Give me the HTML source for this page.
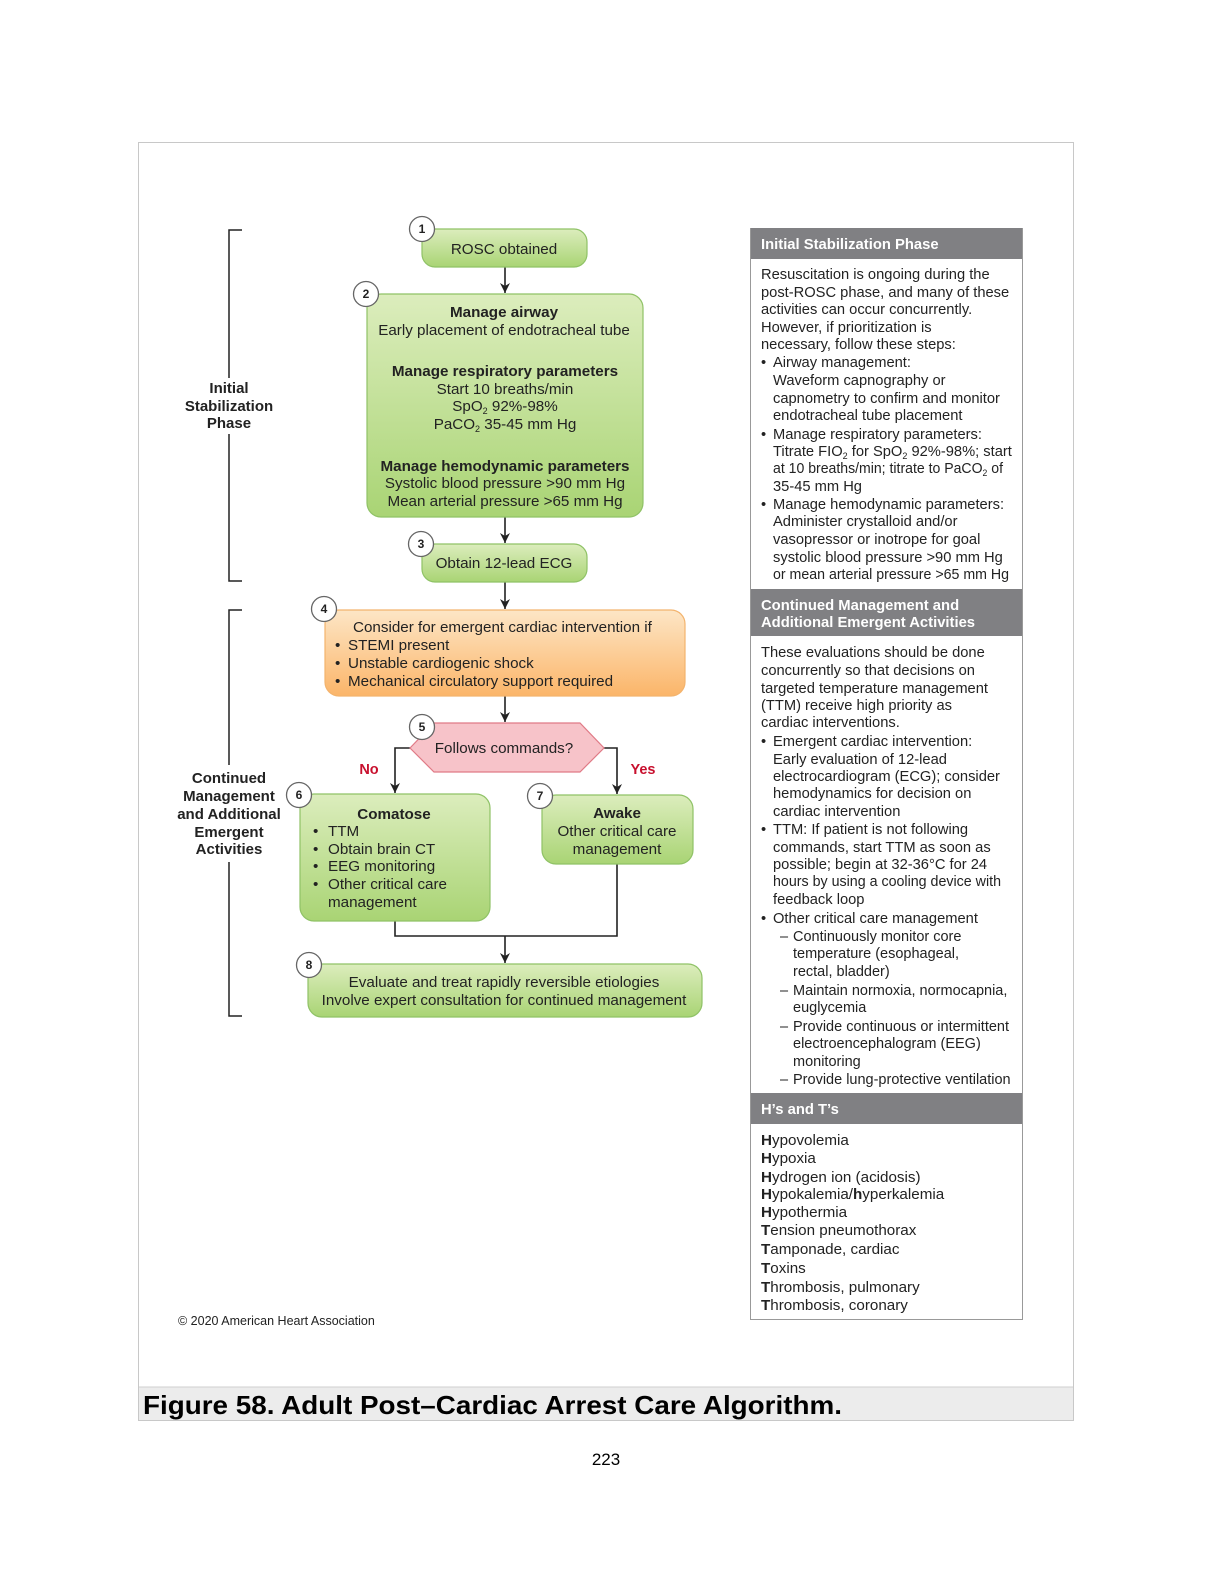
<!DOCTYPE html>
<html><head><meta charset="utf-8"><style>
html,body{margin:0;padding:0;background:#fff}
svg{display:block}
text{font-family:"Liberation Sans",sans-serif;fill:#222}
.f{font-size:15.2px}
.b{font-weight:bold}
.p{font-size:14.7px}
.s{font-size:14.5px}
.n{font-size:12px;font-weight:bold;text-anchor:middle}
.c{text-anchor:middle}
.h{font-size:14.8px;font-weight:bold;fill:#fff}
.t{font-size:15.2px}
</style></head><body>
<svg width="1220" height="1579" viewBox="0 0 1220 1579" xmlns="http://www.w3.org/2000/svg">
<defs>
<linearGradient id="g" x1="0" y1="0" x2="0" y2="1"><stop offset="0" stop-color="#dcedbd"/><stop offset="1" stop-color="#a9d474"/></linearGradient>
<linearGradient id="o" x1="0" y1="0" x2="0" y2="1"><stop offset="0" stop-color="#fde6c6"/><stop offset="1" stop-color="#fbb569"/></linearGradient>
<marker id="a" markerWidth="10" markerHeight="10" refX="10" refY="5" orient="auto" markerUnits="userSpaceOnUse" viewBox="0 0 10 10"><path d="M0,0 L10,5 L0,10 L3,5 Z" fill="#222"/></marker>
</defs>
<rect x="138.5" y="142.5" width="935" height="1278" fill="#fff" stroke="#c8c8c8"/>
<rect x="139" y="1387" width="934" height="33" fill="#ececec"/>
<line x1="139" y1="1387" x2="1073" y2="1387" stroke="#cfcfcf"/>
<text x="143" y="1414" class="b" style="font-size:26px;fill:#000" textLength="699" lengthAdjust="spacingAndGlyphs">Figure 58. Adult Post–Cardiac Arrest Care Algorithm.</text>
<text x="606" y="1465" class="c" style="font-size:17px;fill:#000">223</text>
<text x="178" y="1325" style="font-size:12.5px">© 2020 American Heart Association</text>

<g stroke="#222" stroke-width="1.5" fill="none">
<path d="M242,230 H229 V378 M229,434 V581 H242"/>
<path d="M242,610 H229 V765 M229,862 V1016 H242"/>
</g>
<g style="font-size:15px">
<text x="229" y="393" class="c b">Initial</text>
<text x="229" y="411" class="c b">Stabilization</text>
<text x="229" y="428" class="c b">Phase</text>
<text x="229" y="783" class="c b">Continued</text>
<text x="229" y="801" class="c b">Management</text>
<text x="229" y="819" class="c b">and Additional</text>
<text x="229" y="837" class="c b">Emergent</text>
<text x="229" y="854" class="c b">Activities</text>
</g>

<g stroke="#222" stroke-width="1.6" fill="none">
<line x1="505" y1="267" x2="505" y2="293" marker-end="url(#a)"/>
<line x1="505" y1="337" x2="505" y2="361" marker-end="url(#a)"/>
<line x1="505" y1="433" x2="505" y2="457" marker-end="url(#a)"/>
<line x1="505" y1="517" x2="505" y2="543" marker-end="url(#a)"/>
<line x1="505" y1="582" x2="505" y2="609" marker-end="url(#a)"/>
<line x1="505" y1="696" x2="505" y2="722" marker-end="url(#a)"/>
<polyline points="410,748 395,748 395,793" marker-end="url(#a)"/>
<polyline points="604,748 617,748 617,794" marker-end="url(#a)"/>
<polyline points="395,921 395,936 617,936 617,864"/>
<line x1="505" y1="936" x2="505" y2="963" marker-end="url(#a)"/>
</g>

<rect x="422" y="229" width="165" height="38" rx="13" fill="url(#g)" stroke="#8fc266" stroke-width="1.2"/>
<text x="504" y="254" class="f c">ROSC obtained</text>

<rect x="367" y="294" width="276" height="223" rx="14" fill="url(#g)" stroke="#8fc266" stroke-width="1.2"/>
<text x="504" y="317" class="f c b">Manage airway</text>
<text x="504" y="335" class="f c">Early placement of endotracheal tube</text>
<text x="505" y="376" class="f c b">Manage respiratory parameters</text>
<text x="505" y="394" class="f c">Start 10 breaths/min</text>
<text x="505" y="411" class="f c">SpO<tspan font-size="9" dy="3">2</tspan><tspan dy="-3"> 92%-98%</tspan></text>
<text x="505" y="429" class="f c">PaCO<tspan font-size="9" dy="3">2</tspan><tspan dy="-3"> 35-45 mm Hg</tspan></text>
<text x="505" y="471" class="f c b">Manage hemodynamic parameters</text>
<text x="505" y="488" class="f c">Systolic blood pressure &gt;90 mm Hg</text>
<text x="505" y="506" class="f c">Mean arterial pressure &gt;65 mm Hg</text>

<rect x="422" y="544" width="165" height="38" rx="13" fill="url(#g)" stroke="#8fc266" stroke-width="1.2"/>
<text x="504" y="568" class="f c">Obtain 12-lead ECG</text>

<rect x="325" y="610" width="360" height="86" rx="14" fill="url(#o)" stroke="#f3b36d" stroke-width="1.2"/>
<text x="353" y="632" class="f">Consider for emergent cardiac intervention if</text>
<text x="335" y="650" class="f">•</text><text x="348" y="650" class="f">STEMI present</text>
<text x="335" y="668" class="f">•</text><text x="348" y="668" class="f">Unstable cardiogenic shock</text>
<text x="335" y="686" class="f">•</text><text x="348" y="686" class="f">Mechanical circulatory support required</text>

<polygon points="410,748 434,723 580,723 604,748 580,772 434,772" fill="#f7c3c9" stroke="#e07a86" stroke-width="1.2"/>
<text x="504" y="753" class="f c">Follows commands?</text>
<text x="369" y="774" class="b c" style="font-size:14.5px;fill:#c8102e">No</text>
<text x="643" y="774" class="b c" style="font-size:14.5px;fill:#c8102e">Yes</text>

<rect x="300" y="794" width="190" height="127" rx="14" fill="url(#g)" stroke="#8fc266" stroke-width="1.2"/>
<text x="394" y="819" class="f c b">Comatose</text>
<text x="313" y="836" class="f">•</text><text x="328" y="836" class="f">TTM</text>
<text x="313" y="854" class="f">•</text><text x="328" y="854" class="f">Obtain brain CT</text>
<text x="313" y="871" class="f">•</text><text x="328" y="871" class="f">EEG monitoring</text>
<text x="313" y="889" class="f">•</text><text x="328" y="889" class="f">Other critical care</text>
<text x="328" y="907" class="f">management</text>

<rect x="542" y="795" width="151" height="69" rx="14" fill="url(#g)" stroke="#8fc266" stroke-width="1.2"/>
<text x="617" y="818" class="f c b">Awake</text>
<text x="617" y="836" class="f c">Other critical care</text>
<text x="617" y="854" class="f c">management</text>

<rect x="308" y="964" width="394" height="53" rx="14" fill="url(#g)" stroke="#8fc266" stroke-width="1.2"/>
<text x="504" y="987" class="f c">Evaluate and treat rapidly reversible etiologies</text>
<text x="504" y="1005" class="f c">Involve expert consultation for continued management</text>

<g fill="#fff" stroke="#666" stroke-width="1.3">
<circle cx="422" cy="229" r="12.5"/><circle cx="366" cy="294" r="12.5"/>
<circle cx="421" cy="544" r="12.5"/><circle cx="324" cy="609" r="12.5"/>
<circle cx="422" cy="727" r="12.5"/><circle cx="299" cy="795" r="12.5"/>
<circle cx="540" cy="796" r="12.5"/><circle cx="309" cy="965" r="12.5"/>
</g>
<text x="422" y="233" class="n">1</text><text x="366" y="298" class="n">2</text>
<text x="421" y="548" class="n">3</text><text x="324" y="613" class="n">4</text>
<text x="422" y="731" class="n">5</text><text x="299" y="799" class="n">6</text>
<text x="540" y="800" class="n">7</text><text x="309" y="969" class="n">8</text>

<rect x="750.5" y="228.5" width="272" height="1091" fill="#fff" stroke="#999"/>
<rect x="751" y="228" width="271" height="31" fill="#808083"/>
<rect x="751" y="589" width="271" height="47" fill="#808083"/>
<rect x="751" y="1093" width="271" height="31" fill="#808083"/>
<text x="761" y="249" class="h">Initial Stabilization Phase</text>
<text x="761" y="610" class="h">Continued Management and</text>
<text x="761" y="627" class="h">Additional Emergent Activities</text>
<text x="761" y="1114" class="h">H’s and T’s</text>

<g class="p">
<text x="761" y="279">Resuscitation is ongoing during the</text>
<text x="761" y="297">post-ROSC phase, and many of these</text>
<text x="761" y="314">activities can occur concurrently.</text>
<text x="761" y="332">However, if prioritization is</text>
<text x="761" y="349">necessary, follow these steps:</text>
<text x="761" y="367">•</text><text x="773" y="367">Airway management:</text>
<text x="773" y="385">Waveform capnography or</text>
<text x="773" y="403">capnometry to confirm and monitor</text>
<text x="773" y="420">endotracheal tube placement</text>
<text x="761" y="439">•</text><text x="773" y="439">Manage respiratory parameters:</text>
<text x="773" y="456">Titrate FIO<tspan font-size="9" dy="3">2</tspan><tspan dy="-3"> for SpO</tspan><tspan font-size="9" dy="3">2</tspan><tspan dy="-3"> 92%-98%; start</tspan></text>
<text x="773" y="473" textLength="230" lengthAdjust="spacingAndGlyphs">at 10 breaths/min; titrate to PaCO<tspan font-size="9" dy="3">2</tspan><tspan dy="-3"> of</tspan></text>
<text x="773" y="491">35-45 mm Hg</text>
<text x="761" y="509">•</text><text x="773" y="509">Manage hemodynamic parameters:</text>
<text x="773" y="526">Administer crystalloid and/or</text>
<text x="773" y="544">vasopressor or inotrope for goal</text>
<text x="773" y="562">systolic blood pressure &gt;90 mm Hg</text>
<text x="773" y="579" textLength="236" lengthAdjust="spacingAndGlyphs">or mean arterial pressure &gt;65 mm Hg</text>

<text x="761" y="657">These evaluations should be done</text>
<text x="761" y="675">concurrently so that decisions on</text>
<text x="761" y="693">targeted temperature management</text>
<text x="761" y="710">(TTM) receive high priority as</text>
<text x="761" y="727">cardiac interventions.</text>
<text x="761" y="746">•</text><text x="773" y="746">Emergent cardiac intervention:</text>
<text x="773" y="764">Early evaluation of 12-lead</text>
<text x="773" y="781">electrocardiogram (ECG); consider</text>
<text x="773" y="798">hemodynamics for decision on</text>
<text x="773" y="816">cardiac intervention</text>
<text x="761" y="834">•</text><text x="773" y="834">TTM: If patient is not following</text>
<text x="773" y="852">commands, start TTM as soon as</text>
<text x="773" y="869">possible; begin at 32-36°C for 24</text>
<text x="773" y="886" textLength="228" lengthAdjust="spacingAndGlyphs">hours by using a cooling device with</text>
<text x="773" y="904">feedback loop</text>
<text x="761" y="923">•</text><text x="773" y="923">Other critical care management</text>
</g>
<g class="s">
<text x="780" y="941">–</text><text x="793" y="941">Continuously monitor core</text>
<text x="793" y="958">temperature (esophageal,</text>
<text x="793" y="976">rectal, bladder)</text>
<text x="780" y="995">–</text><text x="793" y="995">Maintain normoxia, normocapnia,</text>
<text x="793" y="1012">euglycemia</text>
<text x="780" y="1031">–</text><text x="793" y="1031">Provide continuous or intermittent</text>
<text x="793" y="1048">electroencephalogram (EEG)</text>
<text x="793" y="1066">monitoring</text>
<text x="780" y="1084">–</text><text x="793" y="1084">Provide lung-protective ventilation</text>
</g>
<g class="t">
<text x="761" y="1145"><tspan font-weight="bold">H</tspan>ypovolemia</text>
<text x="761" y="1163"><tspan font-weight="bold">H</tspan>ypoxia</text>
<text x="761" y="1182"><tspan font-weight="bold">H</tspan>ydrogen ion (acidosis)</text>
<text x="761" y="1199"><tspan font-weight="bold">H</tspan>ypokalemia/<tspan font-weight="bold">h</tspan>yperkalemia</text>
<text x="761" y="1217"><tspan font-weight="bold">H</tspan>ypothermia</text>
<text x="761" y="1235"><tspan font-weight="bold">T</tspan>ension pneumothorax</text>
<text x="761" y="1254"><tspan font-weight="bold">T</tspan>amponade, cardiac</text>
<text x="761" y="1273"><tspan font-weight="bold">T</tspan>oxins</text>
<text x="761" y="1292"><tspan font-weight="bold">T</tspan>hrombosis, pulmonary</text>
<text x="761" y="1310"><tspan font-weight="bold">T</tspan>hrombosis, coronary</text>
</g>
</svg>
</body></html>
